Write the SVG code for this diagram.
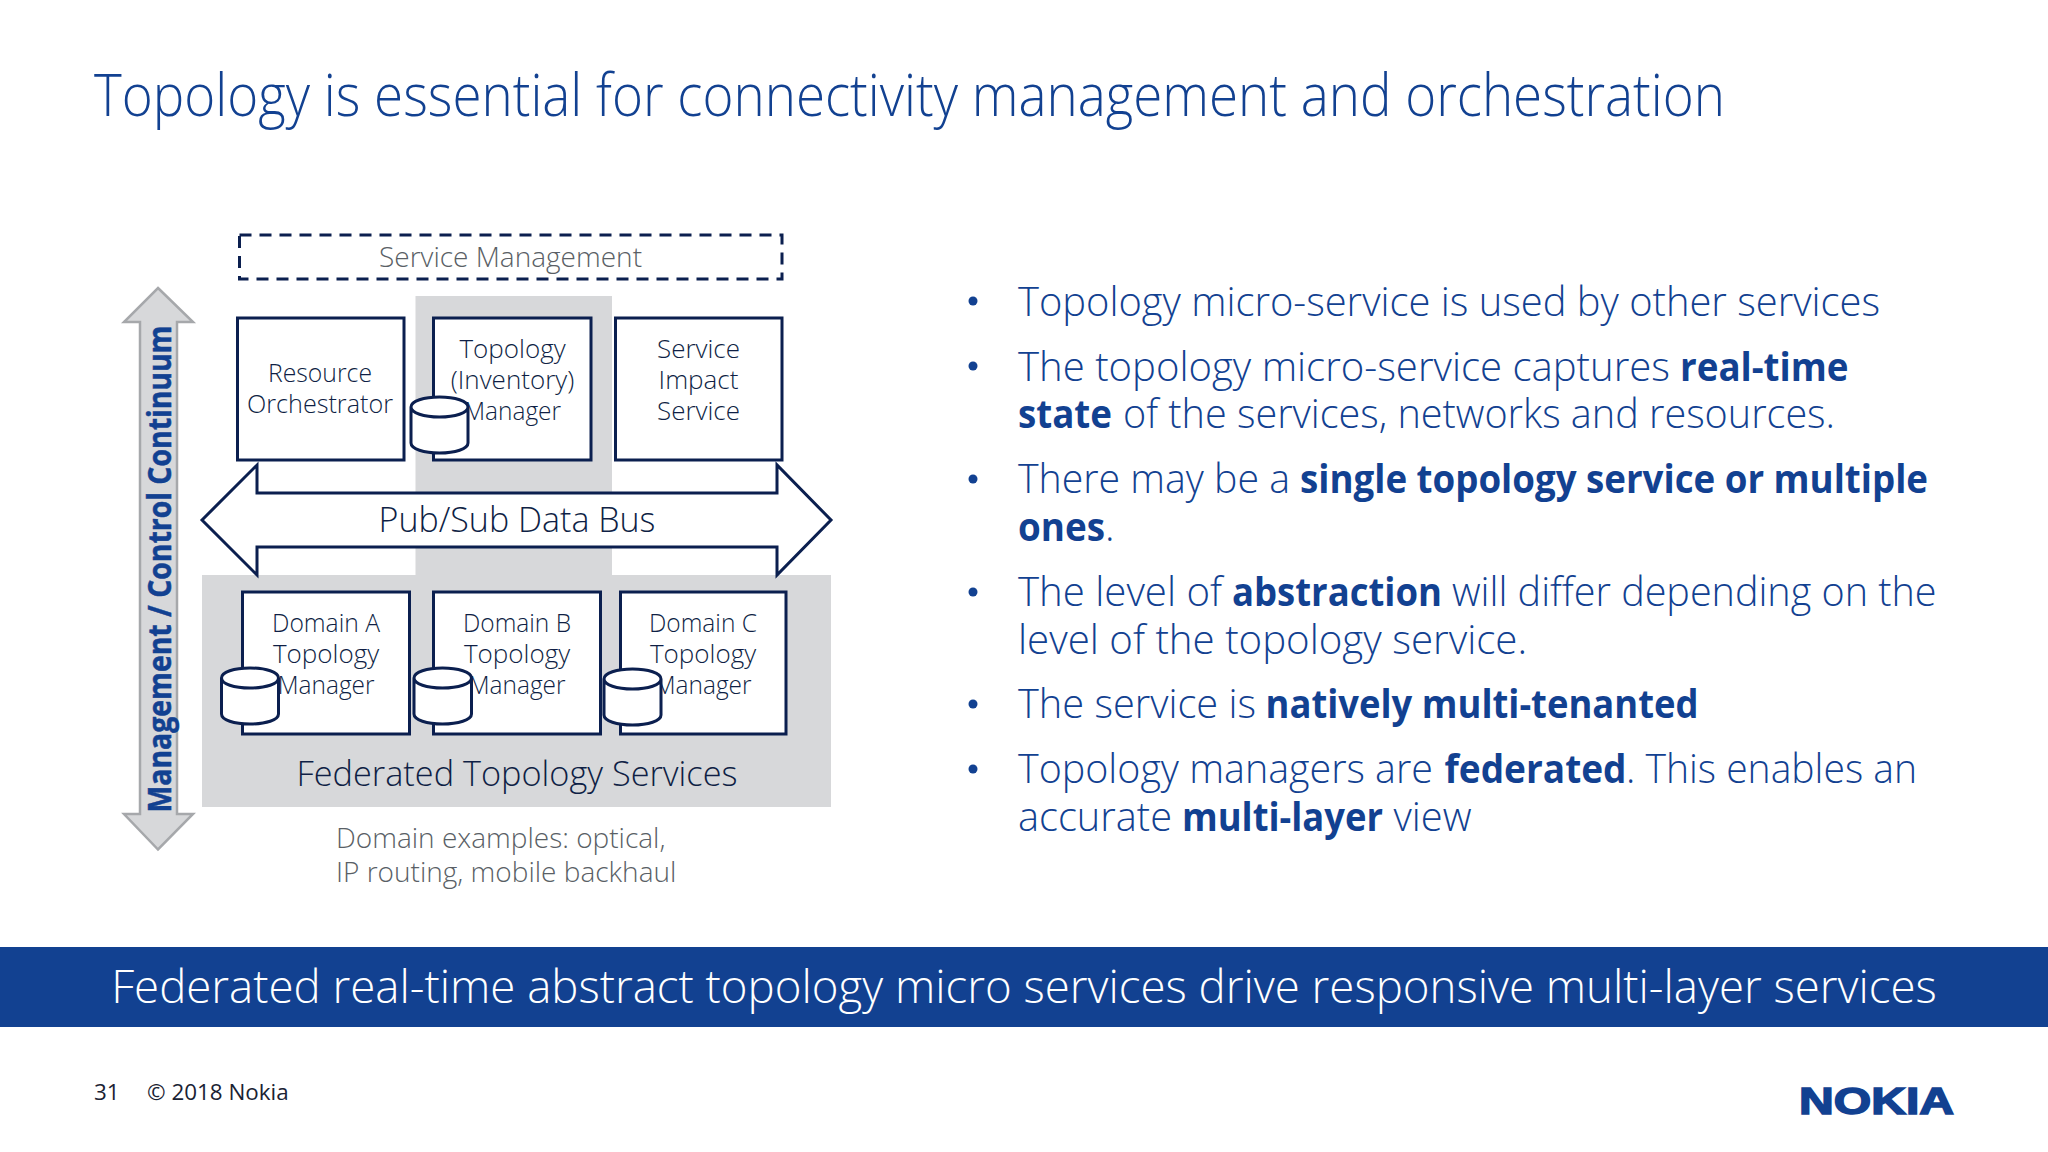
<svg xmlns="http://www.w3.org/2000/svg" width="2048" height="1152" viewBox="0 0 2048 1152">
<style>
text{font-family:"Open Sans","Noto Sans","Liberation Sans",sans-serif;font-weight:300}
.t{fill:#124191}
.b{font-size:40px;fill:#124191}
.b tspan.s{font-weight:700}
.box{fill:#fff;stroke:#0b1f4f;stroke-width:3}
.n{font-size:26px;fill:#0f1f45;text-anchor:middle}
.cy{fill:#fff;stroke:#0b1f4f;stroke-width:3}
.g{fill:#d7d8da}
.d{font-size:28px;fill:#5a5f66}
</style>
<rect width="2048" height="1152" fill="#fff"/>
<text x="94" y="116" font-size="58" class="t" textLength="1631" lengthAdjust="spacingAndGlyphs">Topology is essential for connectivity management and orchestration</text>
<g id="backgrounds">
<rect class="g" x="415.500" y="296" width="196.500" height="290"/>
<rect class="g" x="202" y="575" width="629" height="232"/>
</g>
<g id="continuum">
<path d="M158 288L193 322H177V814H193L158 849.500L124 814H140V322H124Z" fill="#d7d8da" stroke="#a6a8ab" stroke-width="2.500"/>
<text transform="translate(171,812.500) rotate(-90)" font-size="32" style="font-weight:700" class="t" stroke="#124191" stroke-width="0.500" textLength="487" lengthAdjust="spacingAndGlyphs">Management / Control Continuum</text>
</g>
<g id="service-management">
<rect x="239.500" y="235" width="542.500" height="44" fill="none" stroke="#0b1f4f" stroke-width="3" stroke-dasharray="12 8"/>
<text x="510.500" y="267" font-size="28" text-anchor="middle" fill="#5a5f66">Service Management</text>
</g>
<g id="resource-orchestrator">
<rect class="box" x="237.500" y="318" width="166.500" height="142"/>
<text class="n" x="320" y="382" textLength="104" lengthAdjust="spacingAndGlyphs">Resource</text><text class="n" x="320" y="413" textLength="146" lengthAdjust="spacingAndGlyphs">Orchestrator</text>
</g>
<g id="topology-manager">
<rect class="box" x="433.500" y="318" width="157.500" height="142"/>
<text class="n" x="512.500" y="358">Topology</text><text class="n" x="512.500" y="389">(Inventory)</text><text class="n" x="512.500" y="420" textLength="97" lengthAdjust="spacingAndGlyphs">Manager</text>
<path class="cy" d="M411 407V443C411 449 424 453 439.500 453C455 453 468 449 468 443V407C468 401 455 397 439.500 397C424 397 411 401 411 407C411 413 424 417 439.500 417C455 417 468 413 468 407"/>
</g>
<g id="service-impact">
<rect class="box" x="615.500" y="318" width="166.500" height="142"/>
<text class="n" x="698.500" y="358">Service</text><text class="n" x="698.500" y="389">Impact</text><text class="n" x="698.500" y="420">Service</text>
</g>
<g id="data-bus">
<path d="M202 520L257 465V493H777V465L831 520L777 575V547H257V575Z" fill="#fff" stroke="#0b1f4f" stroke-width="3"/>
<text x="517" y="532" font-size="34" text-anchor="middle" fill="#0f1f45">Pub/Sub Data Bus</text>
</g>
<g id="domain-a">
<rect class="box" x="242.500" y="592" width="167" height="142"/>
<text class="n" x="326" y="632" textLength="108" lengthAdjust="spacingAndGlyphs">Domain A</text><text class="n" x="326" y="663">Topology</text><text class="n" x="326" y="694" textLength="97" lengthAdjust="spacingAndGlyphs">Manager</text>
<path class="cy" d="M221.500 678V714C221.500 720 234 724 250 724C266 724 278.500 720 278.500 714V678C278.500 672 266 668 250 668C234 668 221.500 672 221.500 678C221.500 684 234 688 250 688C266 688 278.500 684 278.500 678"/>
</g>
<g id="domain-b">
<rect class="box" x="433.500" y="592" width="167" height="142"/>
<text class="n" x="517" y="632" textLength="108" lengthAdjust="spacingAndGlyphs">Domain B</text><text class="n" x="517" y="663">Topology</text><text class="n" x="517" y="694" textLength="97" lengthAdjust="spacingAndGlyphs">Manager</text>
<path class="cy" d="M414 678V714C414 720 427 724 442.500 724C458 724 471.500 720 471.500 714V678C471.500 672 458 668 442.500 668C427 668 414 672 414 678C414 684 427 688 442.500 688C458 688 471.500 684 471.500 678"/>
</g>
<g id="domain-c">
<rect class="box" x="620.500" y="592" width="165.500" height="142"/>
<text class="n" x="703" y="632" textLength="108" lengthAdjust="spacingAndGlyphs">Domain C</text><text class="n" x="703" y="663">Topology</text><text class="n" x="703" y="694" textLength="97" lengthAdjust="spacingAndGlyphs">Manager</text>
<path class="cy" d="M604 679V715C604 721 617 725 632.500 725C648 725 661 721 661 715V679C661 673 648 669 632.500 669C617 669 604 673 604 679C604 685 617 689 632.500 689C648 689 661 685 661 679"/>
</g>
<text x="517" y="786" font-size="34.300" text-anchor="middle" fill="#0f1f45">Federated Topology Services</text>
<text class="d" x="336" y="848">Domain examples: optical,</text>
<text class="d" x="336" y="882">IP routing, mobile backhaul</text>
<g id="bullets" fill="#124191">
<circle cx="973" cy="301" r="4.500"/><circle cx="973" cy="366" r="4.500"/><circle cx="973" cy="479" r="4.500"/><circle cx="973" cy="592" r="4.500"/><circle cx="973" cy="704" r="4.500"/><circle cx="973" cy="769" r="4.500"/>
</g>
<text class="b" x="1018" y="316" textLength="862" lengthAdjust="spacingAndGlyphs">Topology micro-service is used by other services</text>
<text class="b" y="381"><tspan x="1018" textLength="652" lengthAdjust="spacingAndGlyphs">The topology micro-service captures</tspan><tspan class="s" x="1680" textLength="168.500" lengthAdjust="spacingAndGlyphs">real-time</tspan></text>
<text class="b" y="428"><tspan class="s" x="1018" textLength="94" lengthAdjust="spacingAndGlyphs">state</tspan><tspan x="1123" textLength="712" lengthAdjust="spacingAndGlyphs">of the services, networks and resources.</tspan></text>
<text class="b" y="493"><tspan x="1018" textLength="272" lengthAdjust="spacingAndGlyphs">There may be a</tspan><tspan class="s" x="1300" textLength="628" lengthAdjust="spacingAndGlyphs">single topology service or multiple</tspan></text>
<text class="b" y="541"><tspan class="s" x="1018" textLength="87" lengthAdjust="spacingAndGlyphs">ones</tspan><tspan x="1105">.</tspan></text>
<text class="b" y="606"><tspan x="1018" textLength="204" lengthAdjust="spacingAndGlyphs">The level of</tspan><tspan class="s" x="1232" textLength="210" lengthAdjust="spacingAndGlyphs">abstraction</tspan><tspan x="1452" textLength="484.500" lengthAdjust="spacingAndGlyphs">will differ depending on the</tspan></text>
<text class="b" x="1018" y="654" textLength="509" lengthAdjust="spacingAndGlyphs">level of the topology service.</text>
<text class="b" y="718"><tspan x="1018" textLength="238" lengthAdjust="spacingAndGlyphs">The service is</tspan><tspan class="s" x="1265.500" textLength="433" lengthAdjust="spacingAndGlyphs">natively multi-tenanted</tspan></text>
<text class="b" y="783"><tspan x="1018" textLength="415" lengthAdjust="spacingAndGlyphs">Topology managers are</tspan><tspan class="s" x="1444.500" textLength="182" lengthAdjust="spacingAndGlyphs">federated</tspan><tspan x="1626" textLength="291" lengthAdjust="spacingAndGlyphs">. This enables an</tspan></text>
<text class="b" y="831"><tspan x="1018" textLength="154" lengthAdjust="spacingAndGlyphs">accurate</tspan><tspan class="s" x="1182" textLength="201" lengthAdjust="spacingAndGlyphs">multi-layer</tspan><tspan x="1393.500" textLength="78" lengthAdjust="spacingAndGlyphs">view</tspan></text>
<rect x="0" y="947" width="2048" height="80" fill="#124191"/>
<text x="1024" y="1003" font-size="45.600" fill="#fff" text-anchor="middle">Federated real-time abstract topology micro services drive responsive multi-layer services</text>
<text x="94" y="1100" font-size="22.400" fill="#1a2233" style="font-weight:400">31</text>
<text x="147" y="1100" font-size="22.400" fill="#1a2233" style="font-weight:400">© 2018 Nokia</text>
<text x="1799" y="1114" font-size="36" fill="#124191" stroke="#124191" stroke-width="1.500" style="font-family:'Liberation Sans',sans-serif;font-weight:700" textLength="155" lengthAdjust="spacingAndGlyphs">NOKIA</text>
</svg>
